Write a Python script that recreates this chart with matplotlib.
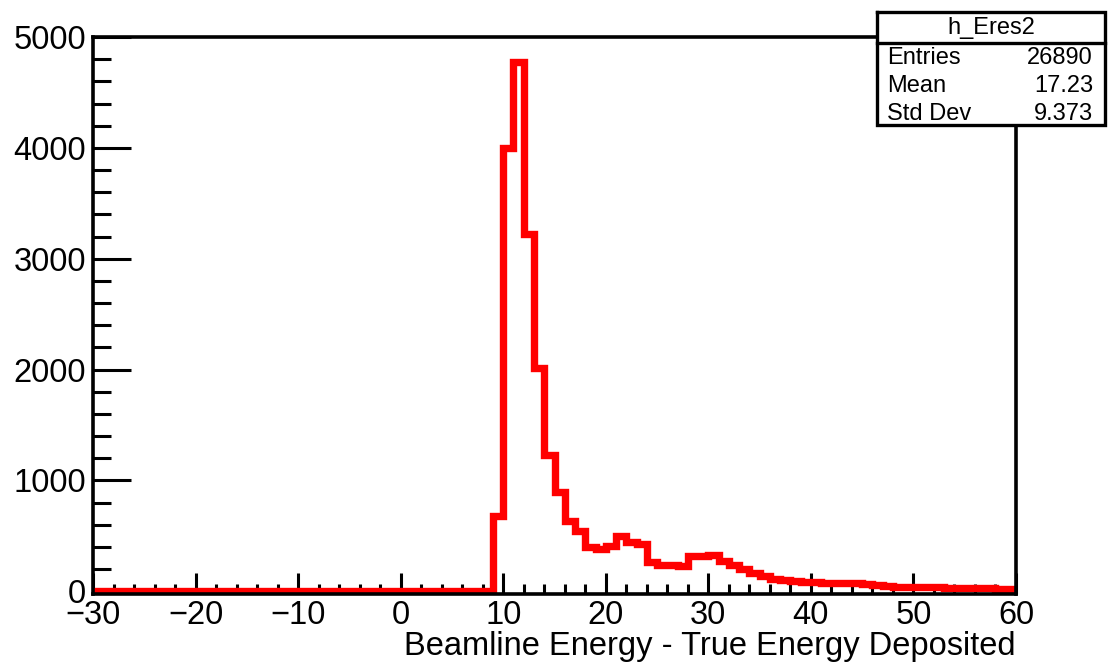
import numpy as np
import matplotlib
matplotlib.use("Agg")
import matplotlib.pyplot as plt
from matplotlib.patches import Rectangle

plt.rcParams['font.family'] = ['Liberation Sans', 'DejaVu Sans']

# --- histogram h_Eres2 : 1 unit bins from -30 to 60 ---------------------------
bin_edges = np.arange(-30, 61, 1)
# counts for bins starting at 9, 10, ..., 59 (everything below 9 is empty)
first_filled = 9
filled_counts = [680, 4000, 4770, 3225, 2010, 1225, 895, 635, 540, 400,
                 380, 405, 495, 440, 425, 265, 240, 240, 230, 315,
                 320, 330, 275, 240, 205, 165, 135, 110, 100, 90,
                 85, 80, 78, 75, 75, 78, 65, 58, 48, 42,
                 40, 40, 40, 35, 32, 28, 26, 26, 25, 20,
                 18]
counts = np.zeros(len(bin_edges) - 1)
start = first_filled - bin_edges[0]
counts[start:start + len(filled_counts)] = filled_counts

stat_names = ["Entries", "Mean", "Std Dev"]
stat_values = ["26890", "17.23", "9.373"]
hist_name = "h_Eres2"
x_title = "Beamline Energy - True Energy Deposited"

fig = plt.figure(figsize=(11.1, 6.64), dpi=100)
ax = fig.add_axes([93/1110, 1 - 594/664, (1016 - 93)/1110, (594 - 37)/664])

ax.stairs(counts, bin_edges, color='red', linewidth=5.3, baseline=None, zorder=2)

# frame sits a hair below zero, like the ROOT pad
ax.set_xlim(-30, 60)
ax.set_ylim(-25, 5000)
ax.set_xticks(np.arange(-30, 61, 10))
ax.set_xticks(np.arange(-30, 61, 2), minor=True)
ax.set_yticks(np.arange(0, 5001, 1000))
ax.set_yticks(np.arange(0, 5001, 200), minor=True)

for s in ax.spines.values():
    s.set_linewidth(2.6)
    s.set_zorder(3)

ax.tick_params(axis='both', which='both', direction='in', width=2.2,
               top=False, right=False, labelsize=23.5)
ax.tick_params(axis='x', which='major', length=15, pad=4)
ax.tick_params(axis='x', which='minor', length=7)
ax.tick_params(axis='y', which='major', length=27, pad=5)
ax.tick_params(axis='y', which='minor', length=13)

ax.set_xlabel(x_title, fontsize=23.5, loc='right', labelpad=0)

# --- stats box ------------------------------------------------------------------
sb = fig.add_axes([877/1110, 1 - 125/664, (1105 - 877)/1110, (125 - 12)/664])
sb.set_xlim(0, 228)
sb.set_ylim(113, 0)
sb.axis('off')
sb.add_patch(Rectangle((0, 0), 228, 113, facecolor='white', edgecolor='none'))
sb.plot([0, 228, 228, 0, 0], [0, 0, 113, 113, 0], color='black', lw=2.4,
        clip_on=False, solid_joinstyle='miter')
sb.plot([0, 228], [31, 31], color='black', lw=2.4, clip_on=False)
sb.text(114, 16, hist_name, ha='center', va='center', fontsize=17)
for i, (n, v) in enumerate(zip(stat_names, stat_values)):
    y = 46 + 28 * i
    sb.text(10, y, n, ha='left', va='center', fontsize=17, clip_on=True)
    sb.text(216, y, v, ha='right', va='center', fontsize=17, clip_on=True)

fig.savefig("out.png", dpi=100)
